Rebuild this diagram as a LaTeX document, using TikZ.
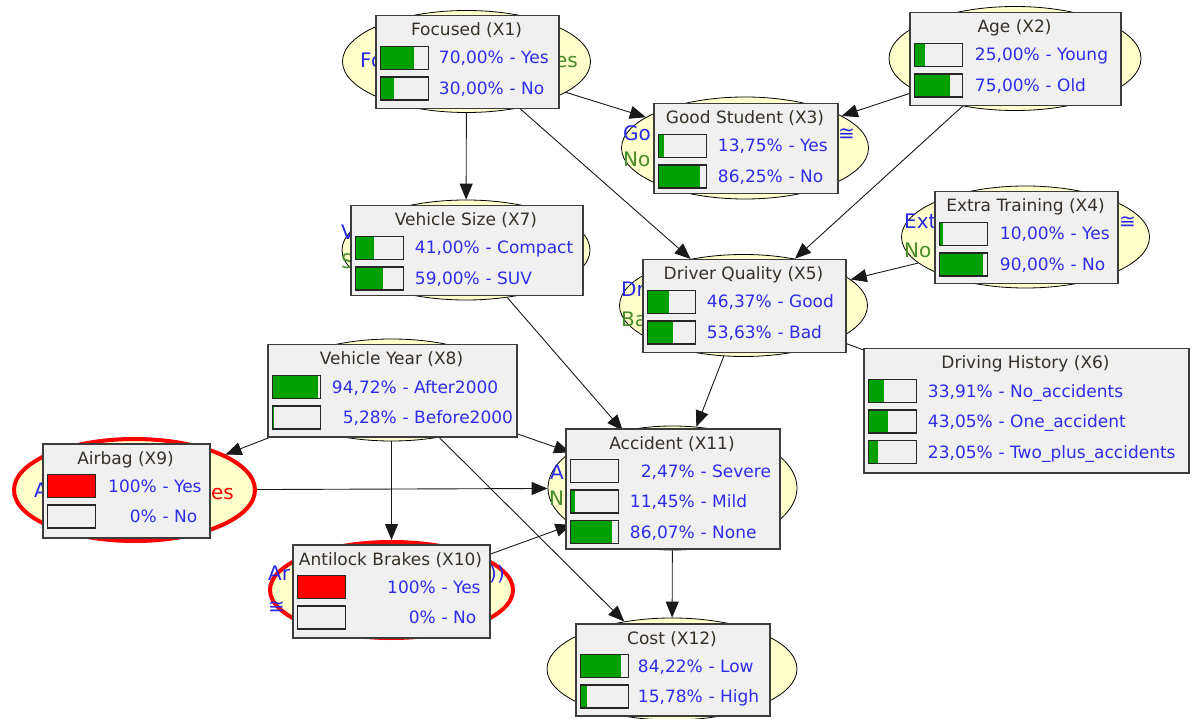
\documentclass[tikz,border=0pt]{standalone}
\usepackage{fontspec}
\setmainfont{DejaVu Sans}
\usetikzlibrary{shapes.geometric,arrows.meta}
\definecolor{boxfill}{RGB}{240,240,240}
\definecolor{boxline}{RGB}{60,60,60}
\definecolor{ttlcol}{RGB}{55,48,40}
\definecolor{pctblue}{RGB}{45,45,235}
\definecolor{fragblue}{RGB}{40,40,230}
\definecolor{fraggreen}{RGB}{70,140,40}
\definecolor{ellfill}{RGB}{255,255,204}
\definecolor{gbar}{RGB}{0,160,0}
\definecolor{rbar}{RGB}{255,0,0}
\newcommand\dc{,}
\tikzset{
  ell/.style={ellipse, draw=black, line width=0.8pt, fill=ellfill, inner sep=0pt},
  evid/.style={ellipse, draw=rbar, line width=4pt, fill=ellfill, inner sep=0pt},
  monbox/.style={rectangle, draw=boxline, line width=1.5pt, fill=boxfill, inner sep=0pt},
  barbg/.style={fill=boxfill},
  barframe/.style={draw=black!85, line width=1.5pt},
  ttl/.style={font=\fontsize{17}{20}\selectfont, text=ttlcol, inner sep=0pt, anchor=base},
  pct/.style={font=\fontsize{17}{20}\selectfont, text=pctblue, inner sep=0pt},
  fragb/.style={font=\fontsize{20}{24}\selectfont, text=fragblue, inner sep=0pt},
  fragg/.style={font=\fontsize{20}{24}\selectfont, text=fraggreen, inner sep=0pt},
  fragr/.style={font=\fontsize{20}{24}\selectfont, text=rbar, inner sep=0pt},
  arr/.style={-{Triangle[length=16pt,width=13pt]}, line width=0.9pt, draw=black!90},
}
% #1 name, #2 L, #3 T, #4 R, #5 B, #6 title, #7 percent column, #8 rows
\newcommand\monitor[8]{%
  \pgfmathsetmacro\monw{#4-#2}%
  \pgfmathsetmacro\monh{#5-#3}%
  \node[monbox, minimum width=\monw pt, minimum height=\monh pt, anchor=north west] (#1) at (#2,#3) {};
  \node[ttl] (#1-title) at ({(#2+#4)/2},{#3+21}) {#6};
  \foreach \f/\c/\p/\l [count=\i] in {#8} {
    \pgfmathsetmacro\rowy{#3+43+(\i-1)*30.5}
    \pgfmathsetmacro\barx{#2+5.5}
    \pgfmathsetmacro\fillw{max(0,49.5*\f-1.5)}
    \fill[barbg] (\barx,\rowy-11.5) rectangle ++(48,23);
    \fill[\c] (\barx,\rowy-11.5) rectangle ++(\fillw,23);
    \draw[barframe] (\barx,\rowy-11.5) rectangle ++(48,23);
    \node[pct, anchor=base east] (#1-p\i) at (#7,\rowy+6) {\p};
    \node[pct, anchor=base west] (#1-l\i) at (#7,\rowy+6) {~-~\l};
  }
}
\begin{document}
\begin{tikzpicture}[x=1pt,y=-1pt]
\fill[white] (0,0) rectangle (1192,719);
\useasboundingbox (0,0) rectangle (1192,719);

% ellipses
\node[ell, minimum width=248pt, minimum height=102pt] (e1) at (466.5,61.5) {};
\node[ell, minimum width=252pt, minimum height=104pt] (e2) at (1015,58.5) {};
\node[ell, minimum width=247pt, minimum height=102pt] (e3) at (745,148) {};
\node[ell, minimum width=248pt, minimum height=102pt] (e4) at (1025.5,237) {};
\node[ell, minimum width=248pt, minimum height=102pt] (e5) at (743.5,305.5) {};
\node[ell, minimum width=248pt, minimum height=116pt] (e6) at (1025.5,410) {};
\node[ell, minimum width=248pt, minimum height=100pt] (e7) at (466,250) {};
\node[ell, minimum width=248pt, minimum height=102pt] (e8) at (391.5,390) {};
\node[evid, minimum width=241pt, minimum height=102pt] (e9) at (134.5,490) {};
\node[evid, minimum width=243pt, minimum height=96pt] (e10) at (391.5,590) {};
\node[ell, minimum width=249pt, minimum height=124pt] (e11) at (672.5,488) {};
\node[ell, minimum width=250pt, minimum height=102pt] (e12) at (672,669) {};

% visible parts of the ellipse labels
\node[fragb, anchor=base west] (f1a) at (360,68) {Fo};
\node[fragg, anchor=base east] (f1b) at (578,68) {es};
\node[fragb, anchor=base west] (f3a) at (623,141) {Go};
\node[fragg, anchor=base west] (f3b) at (623,167) {No};
\node[fragb, anchor=base west] (f3c) at (838,141) {≅};
\node[fragb, anchor=base west] (f4a) at (904,229) {Ext};
\node[fragg, anchor=base west] (f4b) at (904,258) {No};
\node[fragb, anchor=base west] (f4c) at (1119,229) {≅};
\node[fragb, anchor=base west] (f5a) at (621,297) {Dr};
\node[fragg, anchor=base west] (f5b) at (621,327) {Ba};
\node[fragb, anchor=base west] (f7a) at (341,240) {V};
\node[fragg, anchor=base west] (f7b) at (341,269) {S};
\node[fragb, anchor=base west] (f9a) at (34,497) {A};
\node[fragr, anchor=base east] (f9b) at (234,499) {es};
\node[fragb, anchor=base west] (f11a) at (550,479) {A};
\node[fragg, anchor=base west] (f11b) at (549,505) {N};
\node[fragb, anchor=base west] (f10a) at (268,580) {Ar};
\node[fragb, anchor=base west] (f10b) at (489,580) {))};
\node[fragb, anchor=base west] (f10c) at (268,613) {≅};

% connectors
\draw[arr] (e1) -- (e3);
\draw[arr] (e2) -- (e3);
\draw[arr] (e1) -- (e7);
\draw[arr] (e1) -- (e5);
\draw[arr] (e2) -- (e5);
\draw[arr] (e4) -- (e5);
\draw[arr] (e5) -- (e6);
\draw[arr] (e7) -- (e11);
\draw[arr] (e5) -- (e11);
\draw[arr] (e8) -- (e9);
\draw[arr] (e8) -- (e10);
\draw[arr] (e8) -- (e11);
\draw[arr] (e8) -- (e12);
\draw[arr] (e9) -- (e11);
\draw[arr] (e10) -- (e11);
\draw[arr] (e11) -- (e12);

% monitor boxes
\monitor{X1}{375}{15}{558}{108}{Focused (X1)}{504}{0.70/gbar/70\dc00\%/Yes, 0.30/gbar/30\dc00\%/No}
\monitor{X2}{909}{12}{1120}{105}{Age (X2)}{1040}{0.25/gbar/25\dc00\%/Young, 0.75/gbar/75\dc00\%/Old}
\monitor{X3}{653}{103}{837}{193}{Good Student (X3)}{783}{0.1375/gbar/13\dc75\%/Yes, 0.8625/gbar/86\dc25\%/No}
\monitor{X4}{934}{191}{1117}{283}{Extra Training (X4)}{1065}{0.10/gbar/10\dc00\%/Yes, 0.90/gbar/90\dc00\%/No}
\monitor{X5}{642}{259}{845}{352}{Driver Quality (X5)}{772}{0.4637/gbar/46\dc37\%/Good, 0.5363/gbar/53\dc63\%/Bad}
\monitor{X6}{863}{348}{1188}{472}{Driving History (X6)}{993}{0.3391/gbar/33\dc91\%/No\_accidents, 0.4305/gbar/43\dc05\%/One\_accident, 0.2305/gbar/23\dc05\%/Two\_plus\_accidents}
\monitor{X7}{350}{205}{582}{295}{Vehicle Size (X7)}{480}{0.41/gbar/41\dc00\%/Compact, 0.59/gbar/59\dc00\%/SUV}
\monitor{X8}{267}{344}{516}{436}{Vehicle Year (X8)}{397}{0.9472/gbar/94\dc72\%/After2000, 0.0528/gbar/5\dc28\%/Before2000}
\monitor{X9}{42}{443}{209}{537}{Airbag (X9)}{157}{1/rbar/100\%/Yes, 0/gbar/0\%/No}
\monitor{X10}{292}{544}{489}{637}{Antilock Brakes (X10)}{436}{1/rbar/100\%/Yes, 0/gbar/0\%/No}
\monitor{X11}{565}{428}{779}{548}{Accident (X11)}{695}{0.0247/gbar/2\dc47\%/Severe, 0.1145/gbar/11\dc45\%/Mild, 0.8607/gbar/86\dc07\%/None}
\monitor{X12}{575}{623}{769}{715}{Cost (X12)}{703}{0.8422/gbar/84\dc22\%/Low, 0.1578/gbar/15\dc78\%/High}
\end{tikzpicture}
\end{document}
